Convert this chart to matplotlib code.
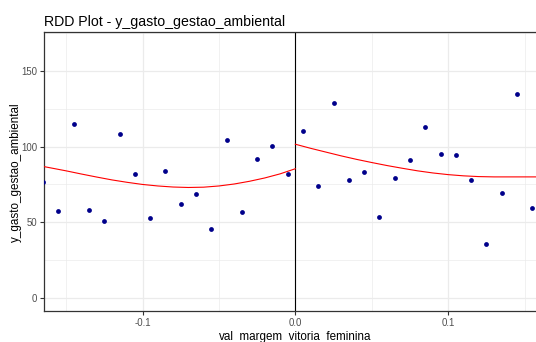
import matplotlib
matplotlib.use("Agg")
import matplotlib.pyplot as plt
from matplotlib.ticker import MultipleLocator

plt.rcParams['font.family'] = ['Liberation Sans', 'DejaVu Sans']

# bin means (left / right of the cutoff)
x_left = [-0.165, -0.155, -0.145, -0.135, -0.125, -0.115, -0.105, -0.095, -0.085,
          -0.075, -0.065, -0.055, -0.045, -0.035, -0.025, -0.015, -0.005]
y_left = [76.5, 57.7, 114.8, 58.1, 50.9, 108.2, 81.9, 52.8, 84.1,
          62.3, 68.5, 45.8, 104.2, 56.6, 91.9, 100.2, 81.9]

x_right = [0.005, 0.015, 0.025, 0.035, 0.045, 0.055, 0.065, 0.075,
           0.085, 0.095, 0.105, 0.115, 0.125, 0.135, 0.145, 0.155]
y_right = [110.6, 74.2, 128.7, 78.0, 83.0, 53.5, 79.5, 91.0,
           113.2, 95.2, 94.5, 78.0, 35.8, 69.2, 135.1, 59.3]

# fitted polynomial on each side
fit_x_left = [-0.17, -0.165, -0.15, -0.14, -0.13, -0.12, -0.11, -0.10, -0.09, -0.08,
              -0.07, -0.06, -0.05, -0.04, -0.03, -0.02, -0.01, 0.0]
fit_y_left = [87.8, 86.9, 84.0, 81.9, 79.9, 78.0, 76.4, 75.0, 74.0, 73.3,
              73.0, 73.2, 74.0, 75.3, 77.1, 79.3, 82.0, 85.4]

fit_x_right = [0.0, 0.01, 0.02, 0.03, 0.04, 0.05, 0.06, 0.07, 0.08, 0.09,
               0.10, 0.11, 0.12, 0.13, 0.14, 0.15, 0.16]
fit_y_right = [101.6, 98.9, 96.4, 93.9, 91.6, 89.5, 87.5, 85.7, 84.0, 82.6,
               81.5, 80.7, 80.2, 80.0, 80.0, 80.0, 80.0]

fig = plt.figure(figsize=(5.36, 3.42), dpi=100)
# panel runs a little past the right edge of the figure
ax = fig.add_axes([0.0826, 0.0906, 0.936, 0.8144])

ax.plot(fit_x_left, fit_y_left, color='red', lw=0.8, zorder=3)
ax.plot(fit_x_right, fit_y_right, color='red', lw=0.8, zorder=3)
ax.scatter(x_left, y_left, s=12, color='#00008B', zorder=4, linewidths=0)
ax.scatter(x_right, y_right, s=12, color='#00008B', zorder=4, linewidths=0)
ax.axvline(0, color='black', lw=0.8, zorder=2)

ax.set_xlim(-0.1643, 0.164)
ax.set_ylim(-8.7, 175.5)

ax.xaxis.set_minor_locator(MultipleLocator(0.05))
ax.yaxis.set_minor_locator(MultipleLocator(25))
ax.set_xticks([-0.1, 0.0, 0.1])
ax.set_xticklabels(['-0.1', '0.0', '0.1'])
ax.set_yticks([0, 50, 100, 150])
ax.set_yticklabels(['0', '50', '100', '150'])

ax.grid(True, which='major', color='#EBEBEB', lw=0.9, zorder=0)
ax.grid(True, which='minor', color='#EBEBEB', lw=0.5, zorder=0)
ax.set_axisbelow(True)
ax.tick_params(which='minor', length=0)
ax.tick_params(which='major', length=3, width=0.8, color='#333333',
               labelcolor='#4D4D4D', labelsize=6.9, pad=2)
for sp in ax.spines.values():
    sp.set_color('#333333')
    sp.set_linewidth(0.9)

ax.set_xlabel('val_margem_vitoria_feminina', fontsize=8.4, labelpad=2)
ax.set_ylabel('y_gasto_gestao_ambiental', fontsize=8.4)
ax.yaxis.set_label_coords(-0.045, 0.5)
ax.set_title('RDD Plot - y_gasto_gestao_ambiental', fontsize=10.2, loc='left', pad=5)

fig.savefig('out.png', dpi=100)
